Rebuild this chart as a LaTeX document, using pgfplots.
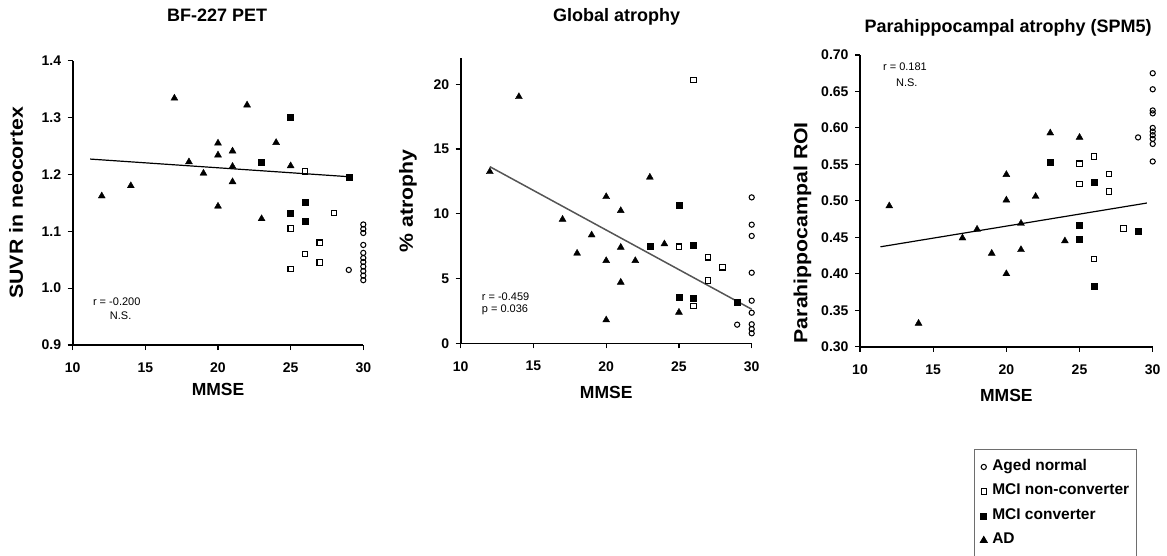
\documentclass[border=0pt]{standalone}
\usepackage{pgfplots}
\usepackage{pgfplotstable}
\pgfplotsset{compat=1.18}
\usepackage{fontspec}
\setmainfont{Liberation Sans}
\newfontfamily\lblfont[FakeStretch=1.12]{Liberation Sans}

\pgfplotstableread{
x y
12 1.162
14 1.180
17 1.334
18 1.222
19 1.202
20 1.255
20 1.234
20 1.144
21 1.241
21 1.214
21 1.187
22 1.322
23 1.122
24 1.256
25 1.215
}\adA
\pgfplotstableread{
x y
25 1.300
23 1.221
29 1.195
26 1.151
25 1.132
26 1.117
}\mcicA
\pgfplotstableread{
x y
26 1.205
28 1.132
25 1.105
27 1.080
26 1.060
27 1.045
25 1.034
}\mcinA
\pgfplotstableread{
x y
29 1.032
30 1.112
30 1.104
30 1.097
30 1.076
30 1.062
30 1.053
30 1.046
30 1.038
30 1.030
30 1.022
30 1.014
}\normA

\pgfplotstableread{
x y
12 13.25
14 19.04
17 9.57
18 6.95
19 8.36
20 11.32
20 6.38
20 1.80
21 10.24
21 7.41
21 4.71
22 6.38
23 12.82
24 7.67
25 2.39
}\adB
\pgfplotstableread{
x y
25 10.68
23 7.51
26 7.54
25 3.58
26 3.50
29 3.14
}\mcicB
\pgfplotstableread{
x y
26 20.33
25 7.46
27 6.64
28 5.87
27 4.84
26 2.88
}\mcinB
\pgfplotstableread{
x y
29 1.44
30 11.27
30 9.16
30 8.29
30 5.45
30 3.29
30 2.36
30 1.47
30 1.10
30 0.77
}\normB

\pgfplotstableread{
x y
12 0.493
14 0.332
17 0.449
18 0.461
19 0.428
20 0.536
20 0.501
20 0.400
21 0.469
21 0.433
22 0.506
23 0.593
24 0.445
25 0.587
}\adC
\pgfplotstableread{
x y
23 0.553
26 0.526
25 0.467
25 0.447
26 0.383
29 0.458
}\mcicC
\pgfplotstableread{
x y
25 0.551
25 0.523
26 0.561
27 0.537
27 0.513
28 0.462
26 0.420
}\mcinC
\pgfplotstableread{
x y
29 0.587
30 0.675
30 0.653
30 0.624
30 0.620
30 0.600
30 0.595
30 0.590
30 0.585
30 0.578
30 0.554
}\normC

\tikzset{annot/.style={font=\fontsize{11}{11}\selectfont, inner sep=0pt}}

\pgfplotsset{
  panel/.style={
    scale only axis, axis lines=left,
    axis line style={-, line width=1.6pt, black},
    enlargelimits=false, clip=false,
    xmin=10, xmax=30, xtick={10,15,20,25,30},
    tick align=outside, major tick length=5pt,
    tick style={line width=1.1pt, black},
    ticklabel style={font=\bfseries\fontsize{14}{14}\selectfont},
    /pgf/number format/assume math mode=true,
    xticklabel style={yshift=-9.5pt},
    yticklabel style={xshift=-3pt},
    xlabel={MMSE},
    xlabel style={font=\bfseries\fontsize{17.5}{17.5}\selectfont},
    ylabel style={font=\lblfont\bfseries\fontsize{19}{19}\selectfont},
    title style={font=\bfseries\fontsize{18}{18}\selectfont, anchor=base},
  },
  ad/.style={only marks, mark=triangle*, mark size=4pt, black, mark options={fill=black}},
  mcic/.style={only marks, mark=square*, mark size=3pt, black, mark options={fill=black}},
  mcin/.style={only marks, mark=square, mark size=2.7pt, black, mark options={line width=1.1pt, fill=white}},
  norm/.style={only marks, mark=o, mark size=2.6pt, black, mark options={line width=1.05pt}},
}

\begin{document}
\begin{tikzpicture}
% Panel 1
\begin{axis}[panel,
  at={(72.7pt,210pt)}, anchor=south west,
  width=290.6pt, height=284.3pt,
  ymin=0.9, ymax=1.4, ytick={0.9,1.0,1.1,1.2,1.3,1.4},
  yticklabel style={/pgf/number format/.cd, fixed, fixed zerofill, precision=1},
  ylabel={SUVR in neocortex},
  ylabel style={at={(axis description cs:-0.195,0.5)}, anchor=center},
  xlabel style={at={(axis description cs:0.5,-0.158)}, anchor=center},
  title={BF-227 PET},
  title style={at={(axis description cs:0.497,1.1185)}},
]
\addplot[norm] table {\normA};
\addplot[mcin] table {\mcinA};
\addplot[mcic] table {\mcicA};
\addplot[ad] table {\adA};
\addplot[black, line width=1.2pt, no marks] coordinates {(11.2,1.227) (29,1.196)};
\node[annot] at (axis cs:13.03,0.977) {r = -0.200};
\node[annot] at (axis cs:13.3,0.952) {N.S.};
\end{axis}

% Panel 2
\begin{axis}[panel,
  at={(460.7pt,211.7pt)}, anchor=south west,
  width=291pt, height=284.9pt,
  ymin=0, ymax=22, ytick={0,5,10,15,20},
  ylabel={\% atrophy},
  ylabel style={at={(axis description cs:-0.181,0.5)}, anchor=center},
  xlabel style={at={(axis description cs:0.5,-0.171)}, anchor=center},
  title={Global atrophy},
  title style={at={(axis description cs:0.536,1.107)}},
]
\addplot[norm] table {\normB};
\addplot[mcin] table {\mcinB};
\addplot[mcic] table {\mcicB};
\addplot[ad] table {\adB};
\addplot[color={rgb,255:red,85;green,85;blue,85}, line width=1.5pt, no marks] coordinates {(12,13.64) (30,2.63)};
\node[annot, anchor=west] at (axis cs:11.44,3.6) {r = -0.459};
\node[annot, anchor=west] at (axis cs:11.44,2.57) {p = 0.036};
\end{axis}

% Panel 3
\begin{axis}[panel,
  at={(860pt,208.3pt)}, anchor=south west,
  width=292.7pt, height=291.7pt,
  ymin=0.30, ymax=0.70, ytick={0.30,0.35,0.40,0.45,0.50,0.55,0.60,0.65,0.70},
  yticklabel style={/pgf/number format/.cd, fixed, fixed zerofill, precision=2},
  ylabel={Parahippocampal ROI},
  ylabel style={at={(axis description cs:-0.197,0.391)}, anchor=center},
  xlabel style={at={(axis description cs:0.5,-0.166)}, anchor=center},
  title={Parahippocampal atrophy (SPM5)},
  title style={at={(axis description cs:0.506,1.058)}},
  legend cell align=left,
  legend image code/.code={\draw[#1] plot coordinates {(0pt,0pt)};},
  legend style={at={(axis description cs:0.389,-0.3507)}, anchor=north west,
    draw={rgb,255:red,110;green,110;blue,110}, line width=0.9pt,
    font=\bfseries\fontsize{15.5}{15.5}\selectfont,
    inner xsep=6pt, inner ysep=10pt,
    nodes={inner sep=1pt, text height=10pt, text depth=3pt},
    row sep=9.5pt,
    /tikz/every odd column/.append style={column sep=4pt}},
]
\addplot[norm] table {\normC};
\addlegendentry{Aged normal}
\addplot[mcin] table {\mcinC};
\addlegendentry{MCI non-converter}
\addplot[mcic] table {\mcicC};
\addlegendentry{MCI converter}
\addplot[ad] table {\adC};
\addlegendentry{AD}
\addplot[black, line width=1.2pt, no marks, forget plot] coordinates {(11.4,0.437) (29.6,0.497)};
\node[annot] at (axis cs:13.07,0.684) {r = 0.181};
\node[annot] at (axis cs:13.2,0.662) {N.S.};
\end{axis}

\pgfresetboundingbox
\path (0pt,0pt) rectangle (1167pt,555pt);
\end{tikzpicture}
\end{document}
